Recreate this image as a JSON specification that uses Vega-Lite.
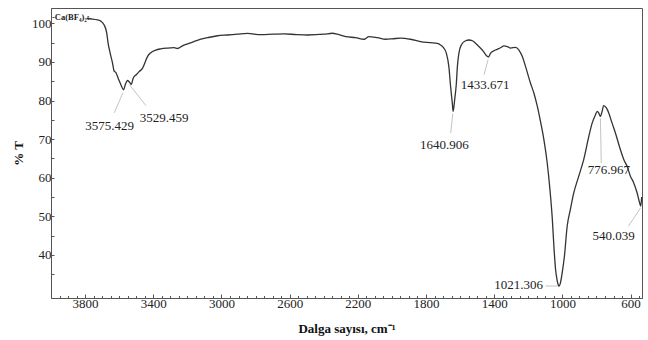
{
  "$schema": "https://vega.github.io/schema/vega-lite/v6.json",
  "width": 591,
  "height": 290,
  "autosize": {"type": "none"},
  "padding": {"left": 51, "top": 8, "right": 6, "bottom": 42},
  "background": "white",
  "config": {
    "view": {"stroke": "#555", "strokeWidth": 1},
    "font": "Liberation Serif",
    "axis": {"grid": false, "domainColor": "#555", "tickColor": "#555", "labelFont": "Liberation Serif", "labelFontSize": 13, "labelColor": "#222", "titleFont": "Liberation Serif", "titleFontSize": 13, "titleFontWeight": "bold", "titleColor": "#111"}
  },
  "datasets": {
    "spectrum": [
      {"wn": 3790, "t": 101.4},
      {"wn": 3782, "t": 101.3},
      {"wn": 3727, "t": 100.9},
      {"wn": 3708, "t": 100.6},
      {"wn": 3688, "t": 99.6},
      {"wn": 3673, "t": 97.5},
      {"wn": 3665, "t": 94.9},
      {"wn": 3653, "t": 92.3},
      {"wn": 3639, "t": 89.7},
      {"wn": 3630, "t": 87.7},
      {"wn": 3620, "t": 87.3},
      {"wn": 3606, "t": 85.8},
      {"wn": 3590, "t": 84.1},
      {"wn": 3575, "t": 82.8},
      {"wn": 3562, "t": 84.4},
      {"wn": 3552, "t": 85.2},
      {"wn": 3540, "t": 84.8},
      {"wn": 3529, "t": 84.2},
      {"wn": 3518, "t": 85.8},
      {"wn": 3500, "t": 86.7},
      {"wn": 3483, "t": 87.5},
      {"wn": 3463, "t": 88.4},
      {"wn": 3450, "t": 89.7},
      {"wn": 3434, "t": 91.4},
      {"wn": 3415, "t": 92.4},
      {"wn": 3385, "t": 93.1},
      {"wn": 3356, "t": 93.4},
      {"wn": 3317, "t": 93.6},
      {"wn": 3278, "t": 93.7},
      {"wn": 3258, "t": 93.5},
      {"wn": 3229, "t": 94.2},
      {"wn": 3199, "t": 94.7},
      {"wn": 3161, "t": 95.3},
      {"wn": 3121, "t": 95.9},
      {"wn": 3082, "t": 96.3},
      {"wn": 3023, "t": 96.8},
      {"wn": 2965, "t": 97.0},
      {"wn": 2906, "t": 97.2},
      {"wn": 2848, "t": 97.4},
      {"wn": 2770, "t": 97.1},
      {"wn": 2700, "t": 97.2},
      {"wn": 2633, "t": 97.3},
      {"wn": 2560, "t": 97.1},
      {"wn": 2496, "t": 97.0},
      {"wn": 2398, "t": 97.2},
      {"wn": 2349, "t": 97.45},
      {"wn": 2320, "t": 97.2},
      {"wn": 2271, "t": 96.6},
      {"wn": 2213, "t": 96.3},
      {"wn": 2164, "t": 95.9},
      {"wn": 2135, "t": 96.6},
      {"wn": 2085, "t": 96.3},
      {"wn": 2037, "t": 95.9},
      {"wn": 1998, "t": 96.0},
      {"wn": 1949, "t": 96.2},
      {"wn": 1890, "t": 95.9},
      {"wn": 1832, "t": 95.3},
      {"wn": 1773, "t": 95.0},
      {"wn": 1734, "t": 94.8},
      {"wn": 1715, "t": 94.4},
      {"wn": 1699, "t": 93.8},
      {"wn": 1681, "t": 92.3},
      {"wn": 1666, "t": 88.8},
      {"wn": 1656, "t": 83.7},
      {"wn": 1646, "t": 79.4},
      {"wn": 1641, "t": 77.2},
      {"wn": 1632, "t": 80.2},
      {"wn": 1622, "t": 84.5},
      {"wn": 1616, "t": 88.8},
      {"wn": 1607, "t": 92.3},
      {"wn": 1593, "t": 94.4},
      {"wn": 1568, "t": 95.5},
      {"wn": 1548, "t": 95.7},
      {"wn": 1528, "t": 95.5},
      {"wn": 1499, "t": 94.4},
      {"wn": 1470, "t": 93.1},
      {"wn": 1434, "t": 91.3},
      {"wn": 1421, "t": 92.3},
      {"wn": 1392, "t": 93.1},
      {"wn": 1363, "t": 93.7},
      {"wn": 1343, "t": 94.2},
      {"wn": 1323, "t": 94.0},
      {"wn": 1304, "t": 93.6},
      {"wn": 1275, "t": 93.8},
      {"wn": 1255, "t": 93.1},
      {"wn": 1235, "t": 91.4},
      {"wn": 1216, "t": 88.8},
      {"wn": 1187, "t": 84.5},
      {"wn": 1167, "t": 81.9},
      {"wn": 1147, "t": 78.5},
      {"wn": 1128, "t": 74.5},
      {"wn": 1109, "t": 70.0},
      {"wn": 1089, "t": 63.8},
      {"wn": 1073, "t": 56.9},
      {"wn": 1059, "t": 49.2},
      {"wn": 1050, "t": 42.3},
      {"wn": 1040, "t": 36.2},
      {"wn": 1030, "t": 33.2},
      {"wn": 1021, "t": 31.9},
      {"wn": 1011, "t": 32.8},
      {"wn": 1001, "t": 35.4},
      {"wn": 988, "t": 39.7},
      {"wn": 972, "t": 47.4},
      {"wn": 953, "t": 51.8},
      {"wn": 933, "t": 56.1},
      {"wn": 904, "t": 60.4},
      {"wn": 875, "t": 64.7},
      {"wn": 845, "t": 70.7},
      {"wn": 825, "t": 74.2},
      {"wn": 806, "t": 76.3},
      {"wn": 796, "t": 77.2},
      {"wn": 787, "t": 76.8},
      {"wn": 777, "t": 75.9},
      {"wn": 767, "t": 77.2},
      {"wn": 758, "t": 78.7},
      {"wn": 742, "t": 78.1},
      {"wn": 728, "t": 76.8},
      {"wn": 709, "t": 74.2},
      {"wn": 689, "t": 71.6},
      {"wn": 660, "t": 67.3},
      {"wn": 640, "t": 64.7},
      {"wn": 621, "t": 63.0},
      {"wn": 601, "t": 60.4},
      {"wn": 582, "t": 58.7},
      {"wn": 562, "t": 56.1},
      {"wn": 547, "t": 53.5},
      {"wn": 540, "t": 52.6},
      {"wn": 535, "t": 55.0}
    ],
    "leaders": [
      {"x1": 3578, "y1": 82.0, "x2": 3629, "y2": 76.8},
      {"x1": 3540, "y1": 84.1, "x2": 3443, "y2": 78.7},
      {"x1": 1643, "y1": 76.6, "x2": 1655, "y2": 71.6},
      {"x1": 1436, "y1": 90.6, "x2": 1460, "y2": 86.7},
      {"x1": 777, "y1": 75.4, "x2": 772, "y2": 63.8},
      {"x1": 541, "y1": 52.2, "x2": 613, "y2": 47.4},
      {"x1": 1100, "y1": 31.9, "x2": 1030, "y2": 31.9}
    ],
    "labels": [
      {"wn": 3656, "t": 73.3, "label": "3575.429"},
      {"wn": 3337, "t": 75.5, "label": "3529.459"},
      {"wn": 1692, "t": 68.6, "label": "1640.906"},
      {"wn": 1454, "t": 84.1, "label": "1433.671"},
      {"wn": 727, "t": 61.9, "label": "776.967"},
      {"wn": 699, "t": 45.0, "label": "540.039"},
      {"wn": 1257, "t": 32.2, "label": "1021.306"}
    ],
    "legend": [
      {"wn": 3994, "t": 101.6, "label": "-Ca(BF₄)₂:"}
    ]
  },
  "resolve": {"axis": {"x": "independent", "y": "independent"}},
  "layer": [
    {
      "data": {"name": "spectrum"},
      "mark": {"type": "line", "color": "#333333", "strokeWidth": 1.3, "interpolate": "monotone"},
      "encoding": {
        "x": {"field": "wn", "type": "quantitative", "scale": {"domain": [4000, 533], "nice": false, "zero": false},
          "axis": {"orient": "bottom", "values": [3800, 3400, 3000, 2600, 2200, 1800, 1400, 1000, 600], "format": "d", "tickSize": -4, "labelPadding": 3, "title": "Dalga sayısı, cm⁻¹", "titlePadding": 12}},
        "y": {"field": "t", "type": "quantitative", "scale": {"domain": [28.8, 104], "nice": false, "zero": false},
          "axis": {"orient": "left", "values": [40, 50, 60, 70, 80, 90, 100], "format": "d", "tickSize": -3, "labelPadding": 3, "title": "% T", "titlePadding": 6}}
      }
    },
    {
      "data": {"name": "leaders"},
      "mark": {"type": "rule", "color": "#c4c4c4", "strokeWidth": 1},
      "encoding": {
        "x": {"field": "x1", "type": "quantitative",
          "axis": {"orient": "bottom", "values": [3950, 3900, 3850, 3750, 3700, 3650, 3600, 3550, 3500, 3450, 3350, 3300, 3250, 3200, 3150, 3100, 3050, 2950, 2900, 2850, 2800, 2750, 2700, 2650, 2550, 2500, 2450, 2400, 2350, 2300, 2250, 2150, 2100, 2050, 2000, 1950, 1900, 1850, 1750, 1700, 1650, 1600, 1550, 1500, 1450, 1350, 1300, 1250, 1200, 1150, 1100, 1050, 950, 900, 850, 800, 750, 700, 650, 550], "tickSize": -2.5, "labels": false, "domain": false, "title": null}},
        "y": {"field": "y1", "type": "quantitative",
          "axis": {"orient": "left", "values": [35, 45, 55, 65, 75, 85, 95], "tickSize": -3, "labels": false, "domain": false, "title": null}},
        "x2": {"field": "x2"},
        "y2": {"field": "y2"}
      }
    },
    {
      "data": {"name": "labels"},
      "mark": {"type": "text", "font": "Liberation Serif", "fontSize": 13, "color": "#222", "align": "center", "baseline": "middle"},
      "encoding": {
        "x": {"field": "wn", "type": "quantitative", "axis": null},
        "y": {"field": "t", "type": "quantitative", "axis": null},
        "text": {"field": "label"}
      }
    },
    {
      "data": {"name": "legend"},
      "mark": {"type": "text", "font": "Liberation Serif", "fontSize": 8.5, "fontWeight": "bold", "color": "#222", "align": "left", "baseline": "middle"},
      "encoding": {
        "x": {"field": "wn", "type": "quantitative", "axis": null},
        "y": {"field": "t", "type": "quantitative", "axis": null},
        "text": {"field": "label"}
      }
    }
  ]
}
